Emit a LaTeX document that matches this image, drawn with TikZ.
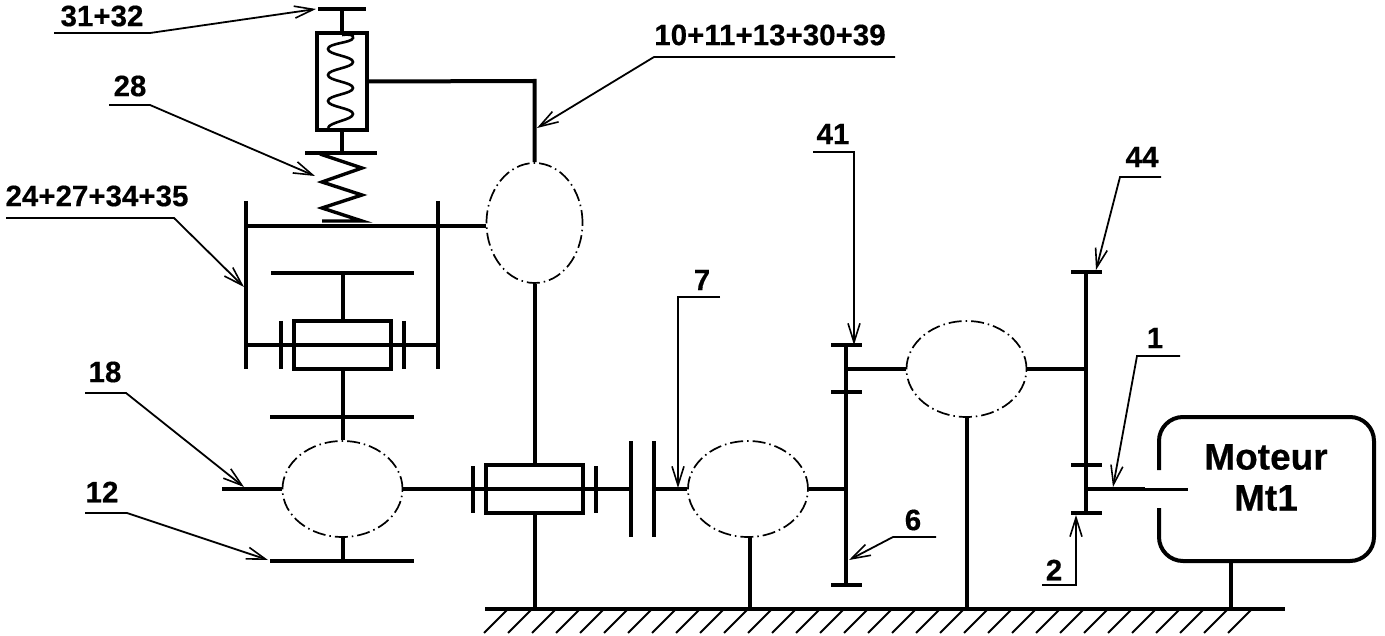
\documentclass[tikz,border=0pt]{standalone}
\usepackage{fontspec}
\setmainfont{Liberation Sans}[BoldFeatures={FakeBold=0.4}]
\usetikzlibrary{arrows.meta,shapes.geometric}
\tikzset{
  x=1pt,y=-1pt,
  heavy/.style={line width=4pt,black},
  thin leader/.style={line width=1.8pt,black},
  leader/.style={thin leader,-{Straight Barb[length=19pt,width=12pt,line width=1.6pt]}},
  lbl/.style={inner sep=0pt,font=\fontsize{29.5}{29.5}\selectfont\bfseries},
  mlbl/.style={inner sep=0pt,font=\fontsize{37}{37}\selectfont\bfseries},
  gear/.style={draw,ellipse,inner sep=0pt,line width=1.7pt,dash pattern=on 13pt off 4pt on 1.5pt off 4pt},
  housing/.style={draw,heavy,rectangle,inner sep=0pt},
}
\begin{document}
\begin{tikzpicture}
\useasboundingbox (0,0) rectangle (1385,636);
% rolling pairs
\node[gear,minimum width=120pt,minimum height=96pt] (g18) at (342.5,489) {};
\node[gear,minimum width=96pt,minimum height=120pt] (g10) at (534.5,223) {};
\node[gear,minimum width=120pt,minimum height=96pt] (g7) at (748,489) {};
\node[gear,minimum width=120pt,minimum height=96pt] (g41) at (966.5,369) {};
% boxes
\node[housing,minimum width=50pt,minimum height=97pt] (spr) at (342,81.5) {};
\node[housing,minimum width=97pt,minimum height=48pt] (sl1) at (342.5,345) {};
\node[housing,minimum width=97pt,minimum height=48pt] (sl2) at (534.5,489) {};
% top stem and plate
\draw[heavy] (318,9) -- (366,9);
\draw[heavy] (342,9) -- (spr.north);
\draw[heavy] (spr.east) -- (534.5,81) -- (g10.north);
\draw[heavy] (spr.south) -- (342,153);
\draw[heavy] (305,153) -- (377,153);
% inner spring
\draw[line width=2.6pt] (342,35) .. controls (350,34) and (354,35) .. (353,38)
  .. controls (352,43) and (328,43) .. (328,49)
  .. controls (328,55) and (353,56) .. (353,62)
  .. controls (353,68) and (328,69) .. (328,75)
  .. controls (328,81) and (353,82) .. (353,88)
  .. controls (353,94) and (328,95) .. (328,101)
  .. controls (328,107) and (353,108) .. (353,114)
  .. controls (353,120) and (329,122) .. (328,128);
% outer spring
\draw[line width=3.4pt] (320,154) -- (362,168) -- (322,182) -- (362,195) -- (322,208) -- (362,221) -- (322,221);
% frame
\draw[heavy] (246,226) -- ([yshift=-3pt]g10.west);
\draw[heavy] (246,201) -- (246,369);
\draw[heavy] (438,201) -- (438,369);
\draw[heavy] (246,345) -- (438,345);
\draw[heavy] (281,321) -- (281,369);
\draw[heavy] (404,321) -- (404,369);
\draw[heavy] (271,273) -- (414,273);
\draw[heavy] (342.5,273) -- (sl1.north);
\draw[heavy] (sl1.south) -- (g18.north);
\draw[heavy] (270,417) -- (414,417);
\draw[heavy] (g18.south) -- (342.5,561);
\draw[heavy] (270,561) -- (414,561);
\draw[heavy] (222,489) -- (g18.west);
\draw[heavy] (g18.east) -- (631,489);
\draw[heavy] (g10.south) -- (sl2.north);
\draw[heavy] (sl2.south) -- (534.5,609);
\draw[heavy] (473,466) -- (473,513);
\draw[heavy] (596,466) -- (596,513);
% clutch
\draw[heavy] (631,441) -- (631,537);
\draw[heavy] (654,441) -- (654,537);
\draw[heavy] (654,489) -- (g7.west);
\draw[heavy] (g7.east) -- (846,489);
\draw[heavy] ([xshift=2pt]g7.south) -- (750,609);
% gear shaft 41
\draw[heavy] (846,345) -- (846,585);
\draw[heavy] (831,345) -- (862,345);
\draw[heavy] (831,392) -- (862,392);
\draw[heavy] (831,585) -- (862,585);
\draw[heavy] (846,369) -- (g41.west);
\draw[heavy] (g41.east) -- (1086,369);
\draw[heavy] (g41.south) -- (966.5,609);
% gear shaft 44
\draw[heavy] (1086,272) -- (1086,513);
\draw[heavy] (1071,272) -- (1102,272);
\draw[heavy] (1071,465) -- (1102,465);
\draw[heavy] (1071,513) -- (1102,513);
\draw[heavy] (1086,489) -- (1145,489);
\draw[line width=3pt] (1145,489) -- (1188,489);
% motor
\draw[heavy] (1159,470) -- (1159,441) arc[start angle=180,end angle=90,radius=24pt] -- (1350,417)
  arc[start angle=90,end angle=0,radius=24pt] -- (1374,537)
  arc[start angle=0,end angle=-90,radius=24pt] -- (1183,561)
  arc[start angle=-90,end angle=-180,radius=24pt] -- (1159,508);
\node[mlbl] (mot) at (1266,457) {Moteur};
\node[mlbl] (mt) at (1266,498) {Mt1};
\draw[heavy] (1231,561) -- (1231,609);
% ground
\draw[heavy] (485,609) -- (1285,609);
\foreach \i in {0,...,31} \draw[line width=1.8pt] (484+24*\i,633) -- (508+24*\i,609);
% labels
\node[lbl] (n3132) at (102,16) {31+32};
\node[lbl] (n28) at (130,86) {28};
\node[lbl] (n24) at (97,196) {24+27+34+35};
\node[lbl] (n18) at (105,372) {18};
\node[lbl] (n12) at (102,492) {12};
\node[lbl] (n10) at (770,35) {10+11+13+30+39};
\node[lbl] (n41) at (833,134) {41};
\node[lbl] (n7) at (702,280) {7};
\node[lbl] (n6) at (913,520) {6};
\node[lbl] (n44) at (1142,157) {44};
\node[lbl] (n1) at (1155,338) {1};
\node[lbl] (n2) at (1054,570) {2};
% leaders
\draw[leader] (54,33) -- (150,33) -- (316,9);
\draw[leader] (109,105) -- (150,105) -- (315,176);
\draw[leader] (6,218) -- (174,218) -- (244,287);
\draw[leader] (85,393) -- (126,393) -- (244,487);
\draw[leader] (85,513) -- (127,513) -- (268,560);
\draw[leader] (895,57) -- (654,57) -- (537,128);
\draw[leader] (813,152) -- (854,152) -- (854,345);
\draw[leader] (720,297) -- (678,297) -- (678,488);
\draw[leader] (936,537) -- (893,537) -- (849,560);
\draw[leader] (1161,177) -- (1120,177) -- (1096,270);
\draw[leader] (1180,356) -- (1137,356) -- (1113,487);
\draw[leader] (1042,585) -- (1076,585) -- (1076,515);
\end{tikzpicture}
\end{document}
